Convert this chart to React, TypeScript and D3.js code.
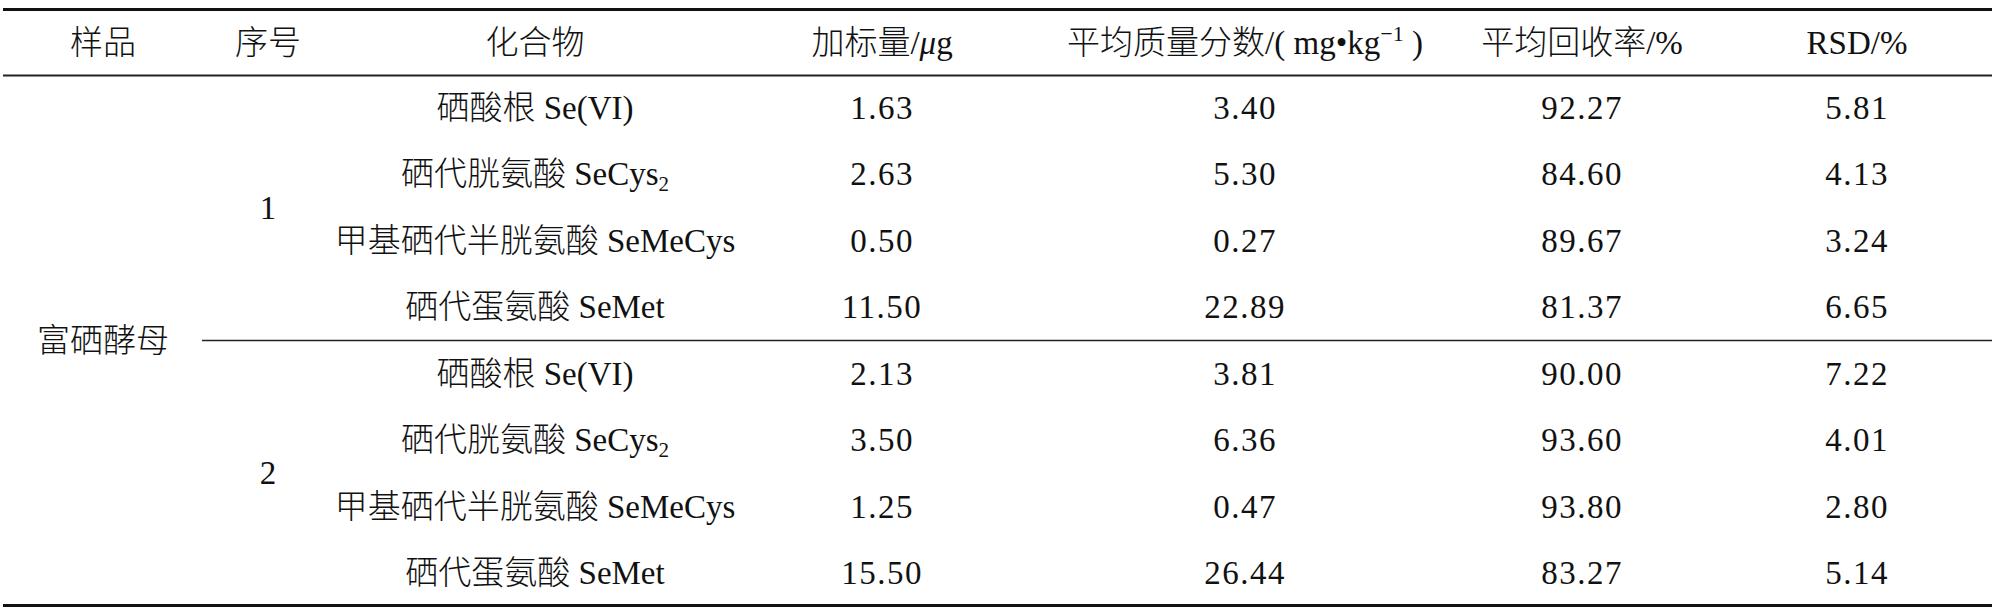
import React from "react";
import * as d3 from "d3";

const headers = ["样品", "序号", "化合物", "加标量/μg", "平均质量分数/(mg•kg−1)", "平均回收率/%", "RSD/%"];
const sampleName = "富硒酵母";
const groupIds = ["1", "2"];
const compoundNames = ["硒酸根", "硒代胱氨酸", "甲基硒代半胱氨酸", "硒代蛋氨酸"];
const compoundSymbols = ["Se(VI)", "SeCys", "SeMeCys", "SeMet"];
const compoundSubs = ["", "2", "", ""];
const spikeAmounts = ["1.63", "2.63", "0.50", "11.50", "2.13", "3.50", "1.25", "15.50"];
const massFractions = ["3.40", "5.30", "0.27", "22.89", "3.81", "6.36", "0.47", "26.44"];
const recoveries = ["92.27", "84.60", "89.67", "81.37", "90.00", "93.60", "93.80", "83.27"];
const rsds = ["5.81", "4.13", "3.24", "6.65", "7.22", "4.01", "2.80", "5.14"];

const W = 2000;
const H = 608;
const LATIN = "'Liberation Serif', 'Times New Roman', serif";
const CJK = "'Noto Sans CJK SC', sans-serif";
const FS = 33;

const Cjk = ({ children }: { children: React.ReactNode }) => (
  <tspan fontFamily={CJK} fontWeight={300}>
    {children}
  </tspan>
);

export default function App() {
  const colKeys = ["sample", "group", "compound", "spike", "mass", "recovery", "rsd"];
  const colX = d3.scaleOrdinal<string, number>().domain(colKeys).range([103, 268, 535, 882, 1245, 1582, 1857]);
  const rowIdx = d3.range(spikeAmounts.length);
  const rowY = d3.scalePoint<number>().domain(rowIdx).range([108, 573]);
  const headerY = 43;
  const base = 11;
  const left = 3;
  const right = 1992;
  const groupSize = compoundNames.length;
  const groupY = (g: number) => (rowY(g * groupSize)! + rowY(g * groupSize + groupSize - 1)!) / 2;
  const sepY = (rowY(groupSize - 1)! + rowY(groupSize)!) / 2;
  const numCols: [string, string[]][] = [
    ["spike", spikeAmounts],
    ["mass", massFractions],
    ["recovery", recoveries],
    ["rsd", rsds],
  ];

  const splitCjk = (s: string) => {
    const m = s.match(/^([^A-Za-z0-9/]*)(.*)$/);
    return m ? [m[1], m[2]] : [s, ""];
  };

  const renderHeader = (h: string, i: number) => {
    const x = colX(colKeys[i]);
    if (h.includes("μg")) {
      return (
        <text key={i} x={x} y={headerY + base} textAnchor="middle">
          <Cjk>加标量</Cjk>/<tspan fontStyle="italic">μ</tspan>g
        </text>
      );
    }
    if (h.includes("kg")) {
      return (
        <text key={i} x={x} y={headerY + base} textAnchor="middle">
          <Cjk>平均质量分数</Cjk>/( mg•kg
          <tspan dy={-13} fontSize={22}>
            −1
          </tspan>
          <tspan dy={13}> )</tspan>
        </text>
      );
    }
    const [c, l] = splitCjk(h);
    return (
      <text key={i} x={x} y={headerY + base} textAnchor="middle">
        {c ? <Cjk>{c}</Cjk> : null}
        {l}
      </text>
    );
  };

  return (
    <svg
      width={W}
      height={H}
      style={{ position: "absolute", left: 0, top: 0, background: "#fff" }}
      fontFamily={LATIN}
      fontSize={FS}
      fill="#111"
    >
      <rect x={0} y={0} width={W} height={H} fill="#fff" />
      <line x1={left} x2={right} y1={9.5} y2={9.5} stroke="#111" strokeWidth={3} />
      <line x1={left} x2={right} y1={75.5} y2={75.5} stroke="#222" strokeWidth={2} />
      <line x1={202} x2={right} y1={sepY} y2={sepY} stroke="#222" strokeWidth={1.5} />
      <line x1={left} x2={right} y1={605.5} y2={605.5} stroke="#111" strokeWidth={3} />

      {headers.map(renderHeader)}

      <text x={colX("sample")} y={(rowY(0)! + rowY(rowIdx.length - 1)!) / 2 + base} textAnchor="middle">
        <Cjk>{sampleName}</Cjk>
      </text>

      {groupIds.map((g, gi) => (
        <text key={g} x={colX("group")} y={groupY(gi) + base} textAnchor="middle">
          {g}
        </text>
      ))}

      {rowIdx.map((r) => {
        const c = r % groupSize;
        return (
          <text key={"c" + r} x={colX("compound")} y={rowY(r)! + base} textAnchor="middle">
            <Cjk>{compoundNames[c]}</Cjk> {compoundSymbols[c]}
            {compoundSubs[c] ? (
              <tspan dy={6} fontSize={21}>
                {compoundSubs[c]}
              </tspan>
            ) : null}
          </text>
        );
      })}

      {numCols.map(([key, vals]) =>
        vals.map((v, r) => (
          <text
            key={key + r}
            x={colX(key)}
            y={rowY(r)! + base}
            textAnchor="middle"
            letterSpacing={1.5}
          >
            {v}
          </text>
        ))
      )}
    </svg>
  );
}
